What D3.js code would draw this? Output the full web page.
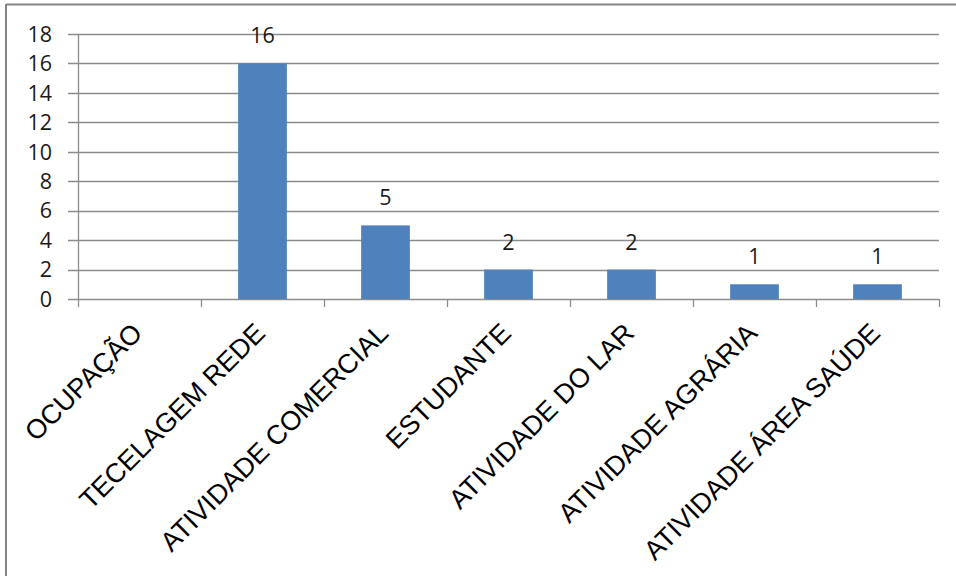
<!DOCTYPE html>
<html><head><meta charset="utf-8">
<script src="https://cdn.jsdelivr.net/npm/d3@7"></script>
<style>body{margin:0;background:#fff}svg{display:block}</style>
</head><body>
<svg id="c" width="956" height="576"></svg>
<script>
const categories = ["OCUPAÇÃO","TECELAGEM REDE","ATIVIDADE COMERCIAL","ESTUDANTE","ATIVIDADE DO LAR","ATIVIDADE AGRÁRIA","ATIVIDADE ÁREA SAÚDE"];
const values = [null,16,5,2,2,1,1];
const yTicks = [0,2,4,6,8,10,12,14,16,18];

(function(){
const svg = d3.select("#c");
const pL = 78, pR = 939, pT = 34, pB = 299;
const x = d3.scaleBand().domain(categories).range([pL, pR]).paddingInner(0.604).paddingOuter(0.302);
const xb = d3.scaleBand().domain(categories).range([pL, pR]);
const y = d3.scaleLinear().domain([0,18]).range([pB, pT]);

// frame
svg.append("line").attr("x1",6).attr("x2",956).attr("y1",4.5).attr("y2",4.5).attr("stroke","#858585").attr("stroke-width",2);
svg.append("line").attr("x1",6).attr("x2",6).attr("y1",4).attr("y2",576).attr("stroke","#858585").attr("stroke-width",2);

// gridlines
svg.append("g").selectAll("line").data(yTicks).join("line")
  .attr("x1",68).attr("x2",pR).attr("y1",d=>Math.round(y(d))+0.5).attr("y2",d=>Math.round(y(d))+0.5)
  .attr("stroke","#8c8c8c").attr("stroke-width",1.3);

// y axis line
svg.append("line").attr("x1",pL+0.5).attr("x2",pL+0.5).attr("y1",pT).attr("y2",pB).attr("stroke","#8c8c8c").attr("stroke-width",1.3);

// y labels
svg.append("g").selectAll("text").data(yTicks).join("text")
  .attr("x",52).attr("y",d=>y(d)).attr("dy","0.36em").attr("text-anchor","end")
  .attr("font-family","'Open Sans', sans-serif").attr("font-size",21.5).attr("fill","#1a1a1a")
  .text(d=>d);

// x ticks
const tickPos = categories.map(c=>xb(c)).concat([pR]);
svg.append("g").selectAll("line").data(tickPos).join("line")
  .attr("x1",d=>Math.round(d)+0.5).attr("x2",d=>Math.round(d)+0.5).attr("y1",pB).attr("y2",307)
  .attr("stroke","#8c8c8c").attr("stroke-width",1.3);

// bars
const data = categories.map((c,i)=>({c, v: values[i]})).filter(d=>d.v!=null);
svg.append("g").selectAll("rect").data(data).join("rect")
  .attr("x",d=>x(d.c)).attr("width",x.bandwidth())
  .attr("y",d=>y(d.v)).attr("height",d=>y(0)-y(d.v))
  .attr("fill","#4f81bd");

// value labels
svg.append("g").selectAll("text").data(data).join("text")
  .attr("x",d=>x(d.c)+x.bandwidth()/2).attr("y",d=>y(d.v)-20)
  .attr("text-anchor","middle")
  .attr("font-family","'Open Sans', sans-serif").attr("font-size",21.5).attr("fill","#1a1a1a")
  .text(d=>d.v);

// category labels
svg.append("g").selectAll("text").data(categories).join("text")
  .attr("transform",c=>`translate(${xb(c)+xb.bandwidth()/2-9.5},${321}) rotate(-45)`)
  .attr("text-anchor","end").attr("dy","0.72em")
  .attr("font-family","'Liberation Sans', Arial, sans-serif").attr("font-size",27).attr("fill","#000")
  .text(c=>c);
})();
</script>
</body></html>
